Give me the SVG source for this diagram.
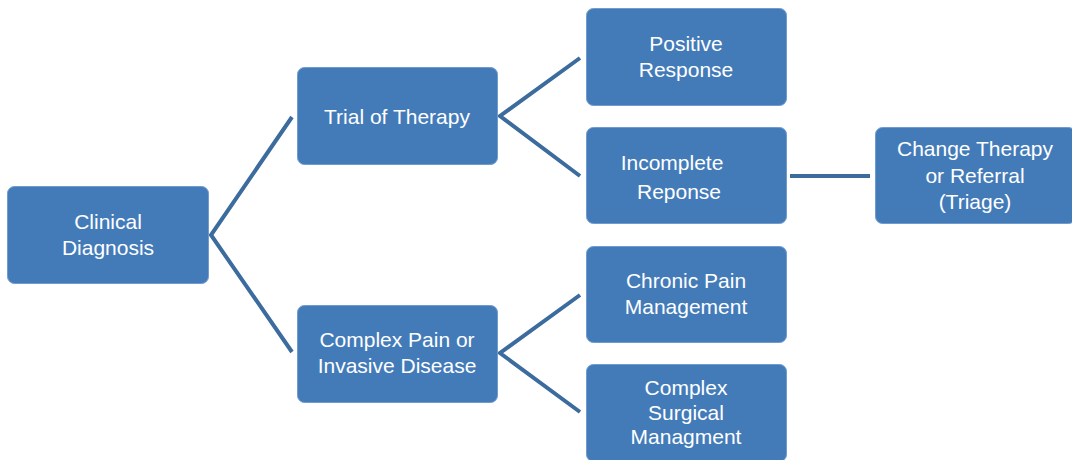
<svg xmlns="http://www.w3.org/2000/svg" width="1072" height="460" viewBox="0 0 1072 460">
<style>
.box{fill:#437bb9;stroke:#6f9bcf;stroke-width:1}
.t{fill:#ffffff;font-family:"Liberation Sans",Arial,sans-serif;font-size:21px;text-anchor:middle}
.c{stroke:#3c6b9e;stroke-width:4;fill:none}
</style>
<rect width="1072" height="460" fill="#ffffff"/>
<g id="connectors">
<polyline class="c" points="292,117 211,235 292,352"/>
<polyline class="c" points="580,58 500,116 580,176"/>
<polyline class="c" points="580,295 500,353 580,412"/>
<line class="c" x1="790" y1="176" x2="870" y2="176"/>
</g>
<g id="clinical">
<rect class="box" x="7.5" y="186.5" width="201" height="97" rx="7"/>
<text class="t" x="108" y="229">Clinical</text>
<text class="t" x="108" y="255">Diagnosis</text>
</g>
<g id="trial">
<rect class="box" x="297.5" y="67.5" width="200" height="97" rx="7"/>
<text class="t" x="397" y="124">Trial of Therapy</text>
</g>
<g id="complexpain">
<rect class="box" x="297.5" y="305.5" width="200" height="97" rx="7"/>
<text class="t" x="397" y="347">Complex Pain or</text>
<text class="t" x="397" y="373">Invasive Disease</text>
</g>
<g id="positive">
<rect class="box" x="586.5" y="8.5" width="200" height="97" rx="7"/>
<text class="t" x="686" y="51">Positive</text>
<text class="t" x="686" y="77">Response</text>
</g>
<g id="incomplete">
<rect class="box" x="586.5" y="127.5" width="200" height="96" rx="7"/>
<text class="t" x="672" y="170">Incomplete</text>
<text class="t" x="679" y="199">Reponse</text>
</g>
<g id="change">
<rect class="box" x="875.5" y="127.5" width="200" height="96" rx="7"/>
<text class="t" x="975" y="156">Change Therapy</text>
<text class="t" x="975" y="183">or Referral</text>
<text class="t" x="975" y="209">(Triage)</text>
</g>
<g id="chronic">
<rect class="box" x="586.5" y="246.5" width="200" height="96" rx="7"/>
<text class="t" x="686" y="288">Chronic Pain</text>
<text class="t" x="686" y="314">Management</text>
</g>
<g id="surgical">
<rect class="box" x="586.5" y="364.5" width="200" height="97" rx="7"/>
<text class="t" x="686" y="395">Complex</text>
<text class="t" x="686" y="420">Surgical</text>
<text class="t" x="686" y="444">Managment</text>
</g>
</svg>
